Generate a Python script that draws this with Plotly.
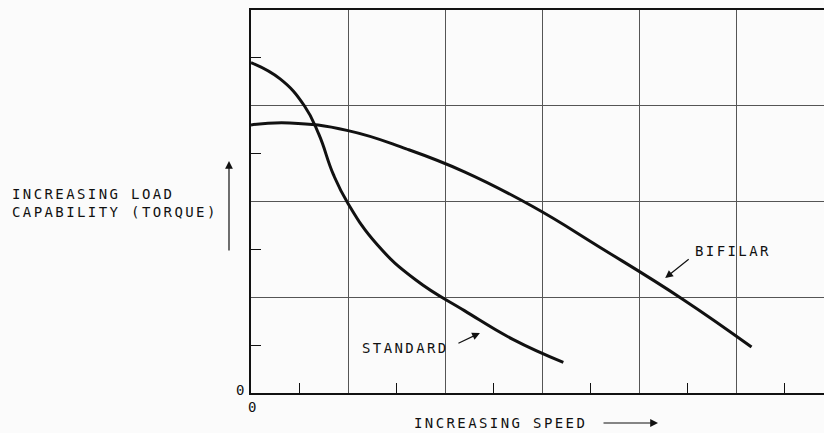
import plotly.graph_objects as go

# curve values (speed, torque in grid units)
standard_speed = [0, 0.3, 0.55, 0.7, 0.85, 1.0, 1.3, 1.7, 2.2, 2.7, 3.22]
standard_torque = [3.45, 3.28, 3.0, 2.70, 2.28, 1.98, 1.55, 1.18, 0.86, 0.56, 0.32]

bifilar_speed = [0, 0.4, 1.0, 1.6, 2.2, 2.9, 3.6, 4.45, 5.16]
bifilar_torque = [2.80, 2.82, 2.74, 2.55, 2.31, 1.95, 1.52, 0.98, 0.48]

grid_x = [1, 2, 3, 4, 5]
grid_y = [1, 2, 3]
half_ticks_x = [0.5, 1.5, 2.5, 3.5, 4.5, 5.5]
half_ticks_y = [0.5, 1.5, 2.5, 3.5]

FONT = "DejaVu Sans Mono"
INK = "#111111"


def spaced(txt, sp=2.4):
    return '<span style="letter-spacing:%spx">%s</span>' % (sp, txt)


fig = go.Figure()
for xs, ys in [(standard_speed, standard_torque), (bifilar_speed, bifilar_torque)]:
    fig.add_trace(go.Scatter(x=xs, y=ys, mode="lines",
                             line=dict(color=INK, width=3, shape="spline", smoothing=1.3),
                             showlegend=False, hoverinfo="skip"))

txt_font = dict(family=FONT, size=14, color=INK)
arrow_style = dict(text="", showarrow=True, arrowhead=2, arrowsize=1.3, arrowwidth=1.2, arrowcolor=INK)


def label(x, y, text, data=False, **kw):
    d = dict(x=x, y=y, xref="x" if data else "paper", yref="y" if data else "paper",
             text=text, showarrow=False, font=txt_font, xanchor="center", yanchor="middle")
    d.update(kw)
    return d


annotations = [
    # curve labels
    label(1.59, 0.475, spaced("STANDARD"), data=True),
    label(4.97, 1.48, spaced("BIFILAR"), data=True),
    # pointer arrows
    dict(x=2.36, y=0.627, xref="x", yref="y", ax=-23, ay=11, **arrow_style),
    dict(x=4.27, y=1.20, xref="x", yref="y", ax=25, ay=-20, **arrow_style),
    # axis titles
    label(-0.4206, 0.497, spaced("INCREASING LOAD") + "<br>" + spaced("CAPABILITY (TORQUE)"),
          xanchor="left", align="left"),
    dict(x=-0.0384, y=0.6057, xref="paper", yref="paper", ax=0, ay=91, **arrow_style),
    label(0.4346, -0.0783, spaced("INCREASING SPEED")),
    dict(x=0.7103, y=-0.0783, xref="paper", yref="paper", ax=-56, ay=0, **arrow_style),
    # origin zeros
    label(-0.0192, 0.0078, "0"),
    label(0.0017, -0.0366, "0"),
]

fig.update_layout(
    width=824, height=433,
    margin=dict(l=251, r=0, t=10, b=40),
    paper_bgcolor="#fbfbfb", plot_bgcolor="#fbfbfb",
    annotations=annotations,
)
fig.update_xaxes(
    range=[0, 573 / 97], showgrid=False, zeroline=False,
    tickmode="array", tickvals=half_ticks_x, ticks="inside", ticklen=10, tickcolor=INK, tickwidth=1.2,
    showticklabels=False,
    minor=dict(tickmode="array", tickvals=grid_x, showgrid=True, gridcolor="#555555", gridwidth=1, ticks=""),
    showline=True, linecolor=INK, linewidth=2, mirror=True,
)
fig.update_yaxes(
    range=[0, 4], showgrid=False, zeroline=False,
    tickmode="array", tickvals=half_ticks_y, ticks="inside", ticklen=10, tickcolor=INK, tickwidth=1.2,
    showticklabels=False,
    minor=dict(tickmode="array", tickvals=grid_y, showgrid=True, gridcolor="#555555", gridwidth=1, ticks=""),
    showline=True, linecolor=INK, linewidth=2,
)

# the page body has an 8px default margin; drop it so the figure sits at the window corner
fig.write_html("out.html", config={"displayModeBar": False},
               post_script="document.body.style.margin='0';")
